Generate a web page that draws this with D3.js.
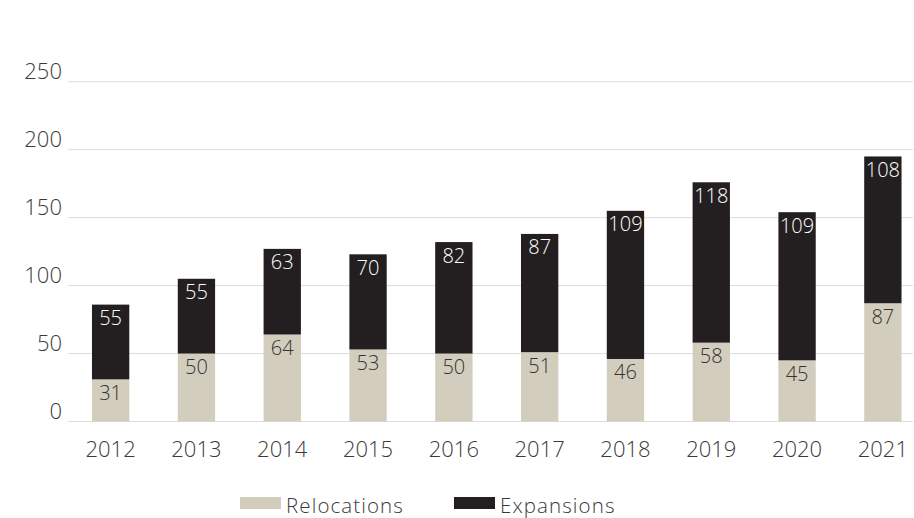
<!DOCTYPE html>
<html>
<head>
<meta charset="utf-8">
<script src="https://cdn.jsdelivr.net/npm/d3@7/dist/d3.min.js"></script>
<style>
  body { margin: 0; background: #fff; }
  svg text { font-family: "Open Sans", Lato, sans-serif; font-weight: 300; }
</style>
</head>
<body>
<svg id="chart" width="914" height="518"></svg>
<script>
const years = ["2012", "2013", "2014", "2015", "2016", "2017", "2018", "2019", "2020", "2021"];
const relocations = [31, 50, 64, 53, 50, 51, 46, 58, 45, 87];
const expansions = [55, 55, 63, 70, 82, 87, 109, 118, 109, 108];
const yTicks = [0, 50, 100, 150, 200, 250];
const seriesNames = ["Relocations", "Expansions"];
const colors = ["#d3cdbd", "#231f20"];

const svg = d3.select("#chart");
const gridLeft = 68;
const gridRight = 913;

const y = d3.scaleLinear().domain([0, 250]).range([421.5, 81.7]);
const x = d3.scaleBand()
  .domain(years)
  .range([70, 923.5])
  .paddingInner(0.565)
  .paddingOuter(0.256);

// gridlines
svg.selectAll(".grid")
  .data(yTicks)
  .enter()
  .append("line")
  .attr("x1", gridLeft)
  .attr("x2", gridRight)
  .attr("y1", d => y(d))
  .attr("y2", d => y(d))
  .attr("stroke", "#dcdcdc")
  .attr("stroke-width", 1);

// y labels
svg.selectAll(".ylab")
  .data(yTicks)
  .enter()
  .append("text")
  .attr("x", 62)
  .attr("y", d => y(d) - 3)
  .attr("text-anchor", "end")
  .style("font-size", "22px")
  .style("fill", "#3a3a3a")
  .text(d => d);

// stacked data
const table = years.map((yr, i) => ({ year: yr, Relocations: relocations[i], Expansions: expansions[i] }));
const stacked = d3.stack().keys(seriesNames)(table);

const layers = svg.selectAll(".layer")
  .data(stacked)
  .enter()
  .append("g")
  .attr("fill", (d, i) => colors[i]);

layers.selectAll("rect")
  .data(d => d)
  .enter()
  .append("rect")
  .attr("x", d => x(d.data.year))
  .attr("width", x.bandwidth())
  .attr("y", d => y(d[1]))
  .attr("height", d => y(d[0]) - y(d[1]));

// value labels
layers.selectAll("text")
  .data((d, i) => d.map(v => ({ v: v, s: i })))
  .enter()
  .append("text")
  .attr("x", d => x(d.v.data.year) + x.bandwidth() / 2)
  .attr("y", d => y(d.v[1]) + 20.5)
  .attr("text-anchor", "middle")
  .style("font-size", "20px")
  .style("fill", d => d.s === 0 ? "#333" : "#fff")
  .text(d => d.v[1] - d.v[0]);

// x labels
svg.selectAll(".xlab")
  .data(years)
  .enter()
  .append("text")
  .attr("x", d => x(d) + x.bandwidth() / 2)
  .attr("y", 456.5)
  .attr("text-anchor", "middle")
  .style("font-size", "22px")
  .style("fill", "#3a3a3a")
  .text(d => d);

// legend
const legendX = [240, 454];
const legend = svg.selectAll(".legend")
  .data(seriesNames)
  .enter()
  .append("g")
  .attr("transform", (d, i) => "translate(" + legendX[i] + ",497)");

legend.append("rect")
  .attr("width", 41)
  .attr("height", 12)
  .attr("fill", (d, i) => colors[i]);

legend.append("text")
  .attr("x", 46)
  .attr("y", 16)
  .style("font-size", "20.5px")
  .style("letter-spacing", "1.1px")
  .style("fill", "#3a3a3a")
  .text(d => d);
</script>
</body>
</html>
